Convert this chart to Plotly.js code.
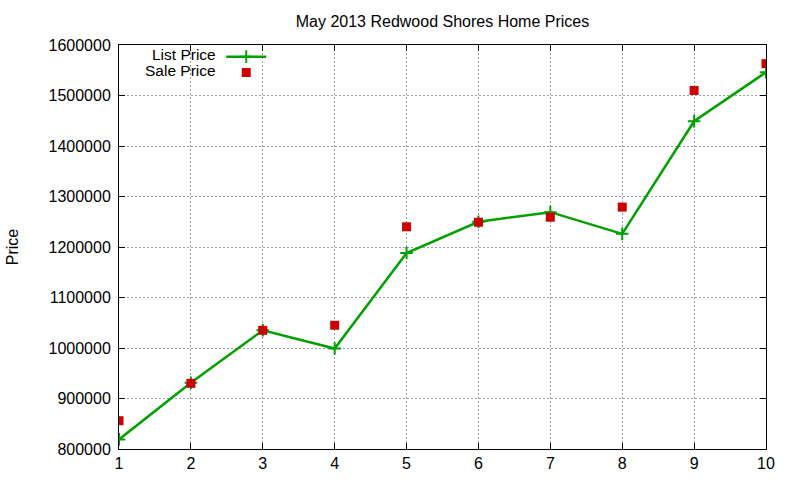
<!DOCTYPE html>
<html>
<head>
<meta charset="utf-8">
<script src="https://cdn.plot.ly/plotly-3.0.1.min.js"></script>
<style>
  body { margin: 0; background: #fff; }
  #chart { width: 800px; height: 480px; }
</style>
</head>
<body>
<div id="chart"></div>
<script>
var rank = [1, 2, 3, 4, 5, 6, 7, 8, 9, 10];
var listPrice = [819000, 931000, 1035000, 999000, 1188000, 1250000, 1269000, 1226000, 1449000, 1546000];
var salePrice = [856000, 930000, 1035000, 1045000, 1240000, 1249000, 1259000, 1279000, 1510000, 1563000];

var fontName = "Liberation Sans, Arial, sans-serif";

var listTrace = {
    x: rank,
    y: listPrice,
    name: "",
    legend: "legend",
    mode: "lines+markers",
    type: "scatter",
    line: { color: "#00a000", width: 2.5 },
    marker: {
        symbol: "cross-thin",
        size: 9,
        color: "#00a000",
        line: { color: "#00a000", width: 2 },
    },
};

var saleTrace = {
    x: rank,
    y: salePrice,
    name: "",
    legend: "legend2",
    mode: "markers",
    type: "scatter",
    marker: { symbol: "square", size: 9, color: "#cc0000" },
};

var axisStyle = {
    showline: true,
    linecolor: "#000",
    linewidth: 1,
    mirror: "ticks",
    ticks: "inside",
    ticklen: 6,
    tickcolor: "#000",
    showgrid: true,
    gridcolor: "#a0a0a0",
    griddash: "2px,2px",
    gridwidth: 1,
    zeroline: false,
    tickfont: { family: fontName, size: 16, color: "#000" },
};

var labelFont = { family: fontName, size: 15.5, color: "#000" };

var legendBase = {
    x: 0.158,
    xanchor: "left",
    yanchor: "top",
    bgcolor: "rgba(0,0,0,0)",
    font: { size: 10 },
    itemwidth: 40,
};

var layout = {
    width: 800,
    height: 480,
    paper_bgcolor: "#fff",
    plot_bgcolor: "#fff",
    font: { family: fontName, color: "#000" },
    margin: { l: 119, r: 34, t: 45, b: 31, pad: 0 },
    title: {
        text: "May 2013 Redwood Shores Home Prices",
        font: { family: fontName, size: 16, color: "#000" },
        xref: "paper",
        x: 0.5,
        xanchor: "center",
        y: 0.956,
        yanchor: "middle",
    },
    xaxis: Object.assign({}, axisStyle, {
        range: [1, 10],
        dtick: 1,
        tick0: 1,
    }),
    yaxis: Object.assign({}, axisStyle, {
        range: [800000, 1600000],
        dtick: 100000,
        tickformat: "d",
        ticklabelstandoff: 4,
        title: {
            text: "Price",
            font: { family: fontName, size: 16, color: "#000" },
            standoff: 25,
        },
    }),
    showlegend: true,
    legend: Object.assign({}, legendBase, { y: 1.007 }),
    legend2: Object.assign({}, legendBase, { y: 0.968 }),
    annotations: [
        {
            text: "List Price",
            xref: "paper", yref: "paper",
            x: 0.1515, y: 0.9765,
            xanchor: "right", yanchor: "middle",
            showarrow: false,
            borderpad: 0,
            font: labelFont,
        },
        {
            text: "Sale Price",
            xref: "paper", yref: "paper",
            x: 0.1515, y: 0.9369,
            xanchor: "right", yanchor: "middle",
            showarrow: false,
            borderpad: 0,
            font: labelFont,
        },
    ],
};

Plotly.newPlot("chart", [listTrace, saleTrace], layout, { staticPlot: true });
</script>
</body>
</html>
